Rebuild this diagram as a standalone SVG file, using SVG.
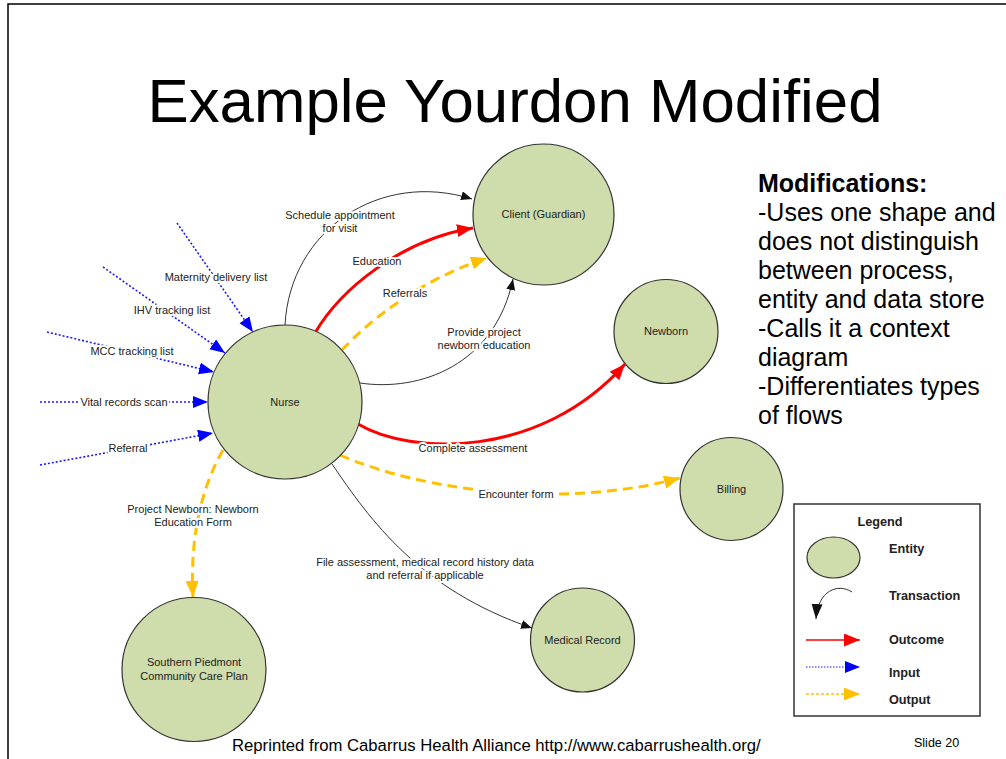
<svg xmlns="http://www.w3.org/2000/svg" width="1006" height="759" viewBox="0 0 1006 759">
<defs>
<style>
.node{fill:#cfdcab;stroke:#333;stroke-width:1.2}
.nt{font-family:"Liberation Sans",Arial,sans-serif;font-size:11px;fill:#222;text-anchor:middle}
.lbl{font-family:"Liberation Sans",Arial,sans-serif;font-size:11px;fill:#222;text-anchor:middle;stroke:#fff;stroke-width:4;stroke-linejoin:round;paint-order:stroke}
.blk{fill:none;stroke:#333;stroke-width:1}
.red{fill:none;stroke:#f00;stroke-width:3}
.yel{fill:none;stroke:#ffc000;stroke-width:3;stroke-dasharray:10,6}
.blu{fill:none;stroke:#1a1aff;stroke-width:1.6;stroke-dasharray:2,2}
.big{font-family:"Liberation Sans",Arial,sans-serif;fill:#000}
.leg{font-family:"Liberation Sans",Arial,sans-serif;font-size:12.7px;font-weight:bold;fill:#222}
</style>
<marker id="aBlk" markerUnits="userSpaceOnUse" markerWidth="12" markerHeight="10" refX="11" refY="4.5" orient="auto"><path d="M0,0 L11,4.5 L0,9 Z" fill="#111"/></marker>
<marker id="aBlkL" markerUnits="userSpaceOnUse" markerWidth="16" markerHeight="12" refX="15" refY="5.5" orient="auto"><path d="M0,0 L15,5.5 L0,11 Z" fill="#111"/></marker>
<marker id="aRed" markerUnits="userSpaceOnUse" markerWidth="18" markerHeight="14" refX="16" refY="6.5" orient="auto"><path d="M0,0 L16,6.5 L0,13 Z" fill="#f00"/></marker>
<marker id="aYel" markerUnits="userSpaceOnUse" markerWidth="18" markerHeight="14" refX="16" refY="6.5" orient="auto"><path d="M0,0 L16,6.5 L0,13 Z" fill="#ffc000"/></marker>
<marker id="aBlu" markerUnits="userSpaceOnUse" markerWidth="16" markerHeight="14" refX="15" refY="6" orient="auto"><path d="M0,0 L15,6 L0,12 Z" fill="#0000ff"/></marker>
</defs>
<rect width="1006" height="759" fill="#fff"/>
<path d="M8,759 L8,4 L1006,4" fill="none" stroke="#000" stroke-width="1.5"/>
<text class="big" x="515" y="122" font-size="62" text-anchor="middle" textLength="735" lengthAdjust="spacingAndGlyphs">Example Yourdon Modified</text>

<g id="connectors">
<path class="blk" d="M285,325 C290,230 380,170 472,199" marker-end="url(#aBlk)"/>
<path class="red" d="M315,333 C340,290 400,240 473,228" marker-end="url(#aRed)"/>
<path class="yel" d="M342,350 C370,320 420,280 487,258" marker-end="url(#aYel)"/>
<path class="blk" d="M360,383 C420,392 495,365 513,279" marker-end="url(#aBlk)"/>
<path class="red" d="M358,424 C410,455 540,460 625,364" marker-end="url(#aRed)"/>
<path class="yel" d="M340,455 C420,490 560,510 680,478" marker-end="url(#aYel)"/>
<path class="blk" d="M332,464 C370,520 420,590 532,628" marker-end="url(#aBlk)"/>
<path class="yel" d="M223,450 C200,490 190,540 193,597" marker-end="url(#aYel)"/>
<path class="blu" d="M177,223 L253,332" marker-end="url(#aBlu)"/>
<path class="blu" d="M103,267 L225,353" marker-end="url(#aBlu)"/>
<path class="blu" d="M47,332 L214,372" marker-end="url(#aBlu)"/>
<path class="blu" d="M40,402 L208,402" marker-end="url(#aBlu)"/>
<path class="blu" d="M40,465 L213,433" marker-end="url(#aBlu)"/>
<text class="lbl" x="340" y="219">Schedule appointment</text>
<text class="lbl" x="340" y="232">for visit</text>
<text class="lbl" x="377" y="265">Education</text>
<text class="lbl" x="405" y="297">Referrals</text>
<text class="lbl" x="484" y="336">Provide project</text>
<text class="lbl" x="484" y="349">newborn education</text>
<text class="lbl" x="473" y="452">Complete assessment</text>
<text class="lbl" x="516" y="498">Encounter form</text>
<text class="lbl" x="425" y="566">File assessment, medical record history data</text>
<text class="lbl" x="425" y="579">and referral if applicable</text>
<text class="lbl" x="193" y="513">Project Newborn: Newborn</text>
<text class="lbl" x="193" y="526">Education Form</text>
<text class="lbl" x="216" y="281">Maternity delivery list</text>
<text class="lbl" x="172" y="314">IHV tracking list</text>
<text class="lbl" x="132" y="355">MCC tracking list</text>
<text class="lbl" x="124" y="406">Vital records scan</text>
<text class="lbl" x="128" y="452">Referral</text>
</g>

<g id="nurse"><circle class="node" cx="285" cy="402" r="77"/><text class="nt" x="285" y="406">Nurse</text></g>
<g id="client"><circle class="node" cx="543.5" cy="214.5" r="70.5"/><text class="nt" x="543.5" y="218">Client (Guardian)</text></g>
<g id="newborn"><circle class="node" cx="666" cy="331.5" r="52"/><text class="nt" x="666" y="335">Newborn</text></g>
<g id="billing"><circle class="node" cx="731.5" cy="489" r="51.5"/><text class="nt" x="731.5" y="493">Billing</text></g>
<g id="medical-record"><circle class="node" cx="582.5" cy="640" r="52"/><text class="nt" x="582.5" y="644">Medical Record</text></g>
<g id="southern-piedmont"><circle class="node" cx="194" cy="669.5" r="72"/><text class="nt" x="194" y="666">Southern Piedmont</text><text class="nt" x="194" y="680">Community Care Plan</text></g>

<g id="modifications" class="big" font-size="25">
<text x="758" y="192" font-weight="bold">Modifications:</text>
<text x="758" y="221">-Uses one shape and</text>
<text x="758" y="250">does not distinguish</text>
<text x="758" y="279">between process,</text>
<text x="758" y="308">entity and data store</text>
<text x="758" y="337">-Calls it a context</text>
<text x="758" y="366">diagram</text>
<text x="758" y="395">-Differentiates types</text>
<text x="758" y="424">of flows</text>
</g>

<g id="legend">
<rect x="794" y="504" width="186" height="212" fill="#fff" stroke="#333" stroke-width="1.5"/>
<text class="leg" x="880" y="526" font-size="15" text-anchor="middle">Legend</text>
<ellipse class="node" cx="833.5" cy="557.5" rx="26.5" ry="20.5"/>
<text class="leg" x="889" y="553">Entity</text>
<path class="blk" d="M852,592 C838,583 818,590 816,619" marker-end="url(#aBlkL)"/>
<text class="leg" x="889" y="600">Transaction</text>
<path d="M806,640 L860,640" stroke="#f00" stroke-width="1.5" marker-end="url(#aRed)"/>
<text class="leg" x="889" y="644">Outcome</text>
<path d="M806,667 L860,667" stroke="#6666ff" stroke-width="1.5" stroke-dasharray="1.5,1.5" marker-end="url(#aBlu)"/>
<text class="leg" x="889" y="677">Input</text>
<path d="M806,694 L860,694" stroke="#ffc000" stroke-width="1.5" stroke-dasharray="3,2" marker-end="url(#aYel)"/>
<text class="leg" x="889" y="704">Output</text>
</g>

<text class="big" x="232" y="751" font-size="16.7">Reprinted from Cabarrus Health Alliance http://www.cabarrushealth.org/</text>
<text class="big" x="914" y="747" font-size="12.5">Slide 20</text>
</svg>
